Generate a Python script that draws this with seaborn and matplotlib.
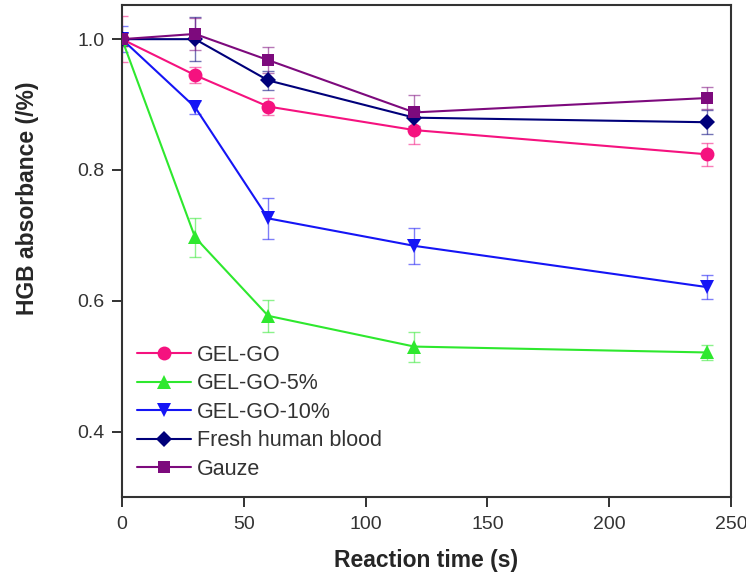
import numpy as np
import pandas as pd
import matplotlib
matplotlib.use("Agg")
import matplotlib.pyplot as plt
import seaborn as sns

times = [0, 30, 60, 120, 240]
series_names = ["GEL-GO", "GEL-GO-5%", "GEL-GO-10%", "Fresh human blood", "Gauze"]
gel_go = [1.0, 0.945, 0.897, 0.861, 0.824]
gel_go_err = [0.035, 0.012, 0.013, 0.021, 0.018]
gel_go5 = [1.0, 0.697, 0.577, 0.530, 0.521]
gel_go5_err = [0.005, 0.030, 0.024, 0.023, 0.012]
gel_go10 = [1.0, 0.896, 0.726, 0.684, 0.621]
gel_go10_err = [0.02, 0.010, 0.031, 0.028, 0.018]
blood = [1.0, 1.0, 0.937, 0.880, 0.873]
blood_err = [0.01, 0.034, 0.015, 0.012, 0.018]
gauze = [1.0, 1.008, 0.968, 0.888, 0.910]
gauze_err = [0.01, 0.025, 0.020, 0.027, 0.017]

values = [gel_go, gel_go5, gel_go10, blood, gauze]
errors = [gel_go_err, gel_go5_err, gel_go10_err, blood_err, gauze_err]
colors = ["#f5127f", "#2ee82e", "#1515f5", "#00007a", "#7d0a7d"]
markers = ["o", "^", "v", "D", "s"]
size_by_marker = {"o": 10, "^": 10, "v": 10, "D": 8.5, "s": 8}

rows = []
for name, vals in zip(series_names, values):
    for t, v in zip(times, vals):
        rows.append({"time": t, "value": v, "series": name})
df = pd.DataFrame(rows)

sns.set_style("ticks")
plt.rcParams["font.family"] = ["Liberation Sans", "DejaVu Sans"]

fig = plt.figure(figsize=(7.46, 5.73), dpi=100)
ax = fig.add_axes([0.1635, 0.1326, 0.8165, 0.8584])

for name, vals, errs, c in zip(series_names, values, errors, colors):
    ax.errorbar(times, vals, yerr=errs, fmt="none", ecolor=c, elinewidth=1.0,
                capsize=4, capthick=1.0, alpha=0.55, zorder=1)

sns.lineplot(data=df, x="time", y="value", hue="series", style="series",
             hue_order=series_names, style_order=series_names,
             palette=dict(zip(series_names, colors)),
             markers=dict(zip(series_names, markers)),
             dashes=False, linewidth=1.5, markeredgewidth=0, markersize=10,
             ax=ax, zorder=3)
for line in ax.get_lines():
    m = line.get_marker()
    if m in size_by_marker:
        line.set_markersize(size_by_marker[m])

ax.set_xlim(0, 250)
ax.set_ylim(0.3, 1.052)
ax.set_xticks([0, 50, 100, 150, 200, 250])
ax.set_yticks([0.4, 0.6, 0.8, 1.0])
ax.set_yticklabels(["0.4", "0.6", "0.8", "1.0"])
ax.tick_params(axis="both", labelsize=14, direction="out", length=7.5, width=1.3,
               colors="#222222", labelcolor="#333333")
ax.tick_params(axis="x", pad=6.5)
ax.tick_params(axis="y", pad=5)
for s in ax.spines.values():
    s.set_linewidth(1.5)
    s.set_color("#333333")
ax.set_xlabel("Reaction time (s)", fontsize=16.5, fontweight="bold", labelpad=11)
ax.set_ylabel("HGB absorbance (/%)", fontsize=16.5, fontweight="bold")
ax.yaxis.set_label_coords(-0.137, 0.608)

handles, labels = ax.get_legend_handles_labels()
for h in handles:
    m = h.get_marker()
    if m in size_by_marker:
        h.set_markersize(size_by_marker[m])
leg = ax.legend(handles, labels, loc="lower left", bbox_to_anchor=(0.0, 0.004),
                frameon=False, fontsize=15.5, handlelength=2.5, labelspacing=0.35,
                handletextpad=0.3, borderaxespad=0.3)
for t in leg.get_texts():
    t.set_color("#333333")

fig.savefig("out.png", dpi=100)
